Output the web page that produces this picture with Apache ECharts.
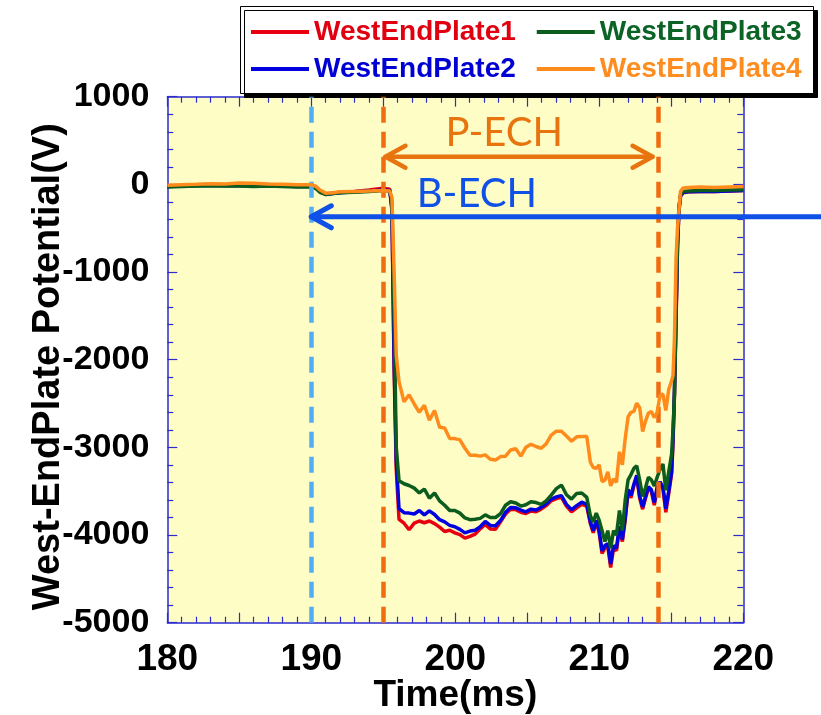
<!DOCTYPE html>
<html>
<head>
<meta charset="utf-8">
<script src="https://cdn.jsdelivr.net/npm/echarts@6/dist/echarts.min.js"></script>
<style>
  html, body { margin: 0; padding: 0; background: #ffffff; }
  #chart { width: 821px; height: 715px; }
</style>
</head>
<body>
<div id="chart"></div>
<script>
// Sample times (ms) shared by the four end-plate probes
const timeMs = [
  180, 181, 182, 183, 184, 185, 186, 187, 188, 189, 190, 190.3, 190.6, 191, 191.5, 192, 193, 194, 195, 195.45, 195.6, 195.75, 195.9,
  196.09, 196.44, 196.79, 197.15, 197.50, 197.85, 198.20, 198.56, 198.91, 199.26, 199.61, 199.97, 200.32, 200.67, 201.02, 201.38,
  201.73, 202.08, 202.43, 202.79, 203.14, 203.49, 203.84, 204.20, 204.55, 204.90, 205.25, 205.61, 205.96, 206.31, 206.66, 207.02,
  207.37, 207.72, 208.07, 208.43, 208.78, 209.13,
  209.38, 209.58, 209.79, 209.99, 210.19, 210.39, 210.59, 210.79, 210.99, 211.19, 211.40, 211.60, 211.80, 212.00, 212.20, 212.40,
  212.60, 212.81, 213.01, 213.21, 213.41, 213.61, 213.82, 214.02, 214.22, 214.42, 214.62, 214.82, 215.02,
  215.12, 215.22, 215.33, 215.43, 215.53, 215.64, 215.83, 216.2, 217, 218, 219, 220
];

// Potential (V) of each west end plate
const plate1 = [
  -20, -15, -10, -5, -10, -5, -10, -15, -15, -20, -20, -35, -80, -110, -100, -90, -80, -65, -45, -55, -300, -2100, -3250,
  -3820, -3865, -3940, -3865, -3840, -3860, -3840, -3870, -3910, -3960, -3945, -3975, -3995, -4035, -4015, -3990,
  -3930, -3880, -3930, -3935, -3850, -3760, -3705, -3710, -3740, -3755, -3725, -3735, -3705, -3665, -3610, -3585,
  -3570, -3670, -3735, -3690, -3650, -3670,
  -3870, -3975, -3850, -3975, -4210, -4150, -4130, -4370, -4150, -4180, -3925, -4075, -3830, -3500, -3575, -3440,
  -3340, -3585, -3705, -3580, -3470, -3500, -3660, -3470, -3420, -3475, -3740, -3530, -3300,
  -2950, -2400, -1550, -720, -310, -135, -95, -85, -80, -80, -75, -70
];
const plate2 = [
  -25, -20, -15, -10, -15, -15, -20, -15, -20, -25, -25, -40, -85, -115, -105, -95, -85, -75, -65, -70, -280, -2000, -3150,
  -3700, -3745, -3750, -3760, -3720, -3770, -3725, -3765, -3825, -3850, -3890, -3905, -3935, -3975, -3955, -3945,
  -3905, -3845, -3890, -3895, -3835, -3740, -3685, -3690, -3715, -3735, -3705, -3715, -3685, -3645, -3590, -3565,
  -3550, -3650, -3710, -3665, -3625, -3650,
  -3850, -3950, -3830, -3950, -4180, -4120, -4100, -4330, -4120, -4150, -3900, -4050, -3800, -3480, -3550, -3420,
  -3320, -3560, -3680, -3560, -3450, -3480, -3630, -3450, -3395, -3450, -3700, -3500, -3280,
  -2900, -2350, -1500, -700, -300, -130, -90, -85, -80, -80, -75, -70
];
const plate3 = [
  -30, -25, -20, -15, -20, -20, -25, -20, -25, -30, -30, -45, -90, -115, -105, -95, -90, -80, -70, -75, -200, -1500, -3000,
  -3380, -3415, -3435, -3465, -3520, -3475, -3580, -3520, -3610, -3660, -3720, -3720, -3750, -3805, -3825, -3820,
  -3810, -3770, -3800, -3800, -3755, -3660, -3620, -3635, -3670, -3655, -3620, -3630, -3650, -3610, -3545, -3470,
  -3430, -3540, -3590, -3525, -3520, -3570,
  -3780, -3850, -3750, -3830, -3950, -4075, -3950, -4150, -3950, -4000, -3720, -3950, -3600, -3370, -3310, -3240,
  -3210, -3380, -3560, -3460, -3340, -3370, -3440, -3340, -3250, -3190, -3490, -3280, -3080,
  -2800, -2400, -1450, -650, -250, -120, -80, -75, -70, -70, -65, -60
];
const plate4 = [
  -10, -5, 0, 8, 5, 15, 12, 5, 0, -5, -5, -20, -65, -100, -95, -85, -80, -75, -70, -75, -150, -1000, -1950,
  -2250, -2480, -2400, -2505, -2600, -2520, -2690, -2580, -2770, -2780, -2900, -2900, -2915, -3010, -3090, -3090,
  -3100, -3085, -3135, -3145, -3105, -3100, -3030, -3015, -3100, -3000, -2965, -2990, -3010, -2960, -2860, -2815,
  -2815, -2870, -2930, -2880, -2875, -2875,
  -3170, -3230, -3240, -3200, -3390, -3375, -3280, -3440, -3360, -3400, -3050, -3200, -2900, -2650, -2600, -2590,
  -2495, -2550, -2820, -2700, -2610, -2590, -2660, -2600, -2400, -2395, -2580, -2340, -2240,
  -2180, -1750, -850, -500, -300, -80, -40, -35, -30, -35, -30, -25
];

const seriesNames = ['WestEndPlate1', 'WestEndPlate2', 'WestEndPlate3', 'WestEndPlate4'];
const seriesValues = [plate1, plate2, plate3, plate4];
const lineColors = ['#e8000e', '#0000e0', '#0b5c1d', '#ff8b1c'];
const legendRows = [['WestEndPlate1', 'WestEndPlate3'], ['WestEndPlate2', 'WestEndPlate4']];
const legendTextColors = {
  WestEndPlate1: '#e0000f', WestEndPlate2: '#0000d4', WestEndPlate3: '#0b6326', WestEndPlate4: '#ff8c1f'
};

// Axis ranges
const timeRange = [180, 220];
const timeStep = 5;
const timeLabelStep = 10;
const voltRange = [-5000, 1000];
const voltStep = 1000;

// Discharge phases: B-ECH starts at 190 ms, P-ECH spans 195 - 214.1 ms
const bechStart = 190;
const pechBounds = [195, 214.1];
const pechArrow = { from: 195.15, to: 213.7, level: 315 };
const bechArrow = { from: 190, to: 226, level: -370 };
const pechLabel = { text: 'P-ECH', t: 203.4, v: 585 };
const bechLabel = { text: 'B-ECH', t: 201.5, v: -114 };

const FONT = "'Liberation Sans', Arial, sans-serif";
const NOTE_FONT = "Lato, 'Open Sans', sans-serif";
const axisBlue = '#2b2bd2';
const orangeMark = '#ef6c10';
const blueMark = '#52adf2';
const pechColor = '#e8740f';
const bechColor = '#0f50e6';

const chart = echarts.init(document.getElementById('chart'), null, { renderer: 'canvas' });

function frameAxis(base) {
  return Object.assign({
    type: 'value',
    nameMoveOverlap: false,
    axisLine: { show: true, onZero: false, lineStyle: { color: axisBlue, width: 1.5 } },
    axisTick: { show: true, inside: true, length: 10, lineStyle: { color: axisBlue, width: 1.2 } },
    minorTick: { show: true, splitNumber: 5, length: 6, lineStyle: { color: axisBlue, width: 1.2 } },
    splitLine: { show: false },
    minorSplitLine: { show: false }
  }, base);
}

const series = seriesNames.map((name, i) => ({
  name: name,
  type: 'line',
  data: timeMs.map((t, j) => [t, seriesValues[i][j]]),
  symbol: 'none',
  showSymbol: false,
  color: lineColors[i],
  itemStyle: { color: lineColors[i] },
  lineStyle: { color: lineColors[i], width: 3.5 },
  z: 2 + i,
  animation: false
}));

const dashStyle = (color) => ({ color: color, width: 4.5, type: [16, 9], opacity: 1 });
series[3].markLine = {
  silent: true,
  symbol: ['none', 'none'],
  label: { show: false },
  animation: false,
  lineStyle: dashStyle(orangeMark),
  emphasis: { disabled: true },
  data: [
    { xAxis: bechStart, lineStyle: dashStyle(blueMark) },
    { xAxis: pechBounds[0], lineStyle: dashStyle(orangeMark) },
    { xAxis: pechBounds[1], lineStyle: dashStyle(orangeMark) }
  ]
};

// One legend per row, laid inside a shared framed box
const legends = legendRows.map((row, r) => ({
  left: 251, top: 17 + r * 37,
  orient: 'horizontal',
  padding: 0,
  itemGap: 21,
  itemWidth: 58,
  itemHeight: 4,
  icon: 'rect',
  selectedMode: false,
  z: 6,
  textStyle: { fontFamily: FONT, fontWeight: 'bold', fontSize: 28, lineHeight: 30 },
  data: row.map(n => ({ name: n, textStyle: { color: legendTextColors[n] } }))
}));

chart.setOption({
  animation: false,
  backgroundColor: '#ffffff',
  grid: {
    left: 167.3, right: 77.7, top: 96.7, bottom: 92.3,
    outerBoundsMode: 'none',
    show: true, backgroundColor: '#fdfdc5', borderWidth: 0
  },
  legend: legends,
  xAxis: [
    frameAxis({
      position: 'bottom',
      min: timeRange[0], max: timeRange[1], interval: timeStep,
      axisLabel: {
        show: true, margin: 19, color: '#000', fontFamily: FONT, fontWeight: 'bold', fontSize: 37,
        formatter: v => (v % timeLabelStep === 0 ? String(v) : '')
      },
      name: 'Time(ms)',
      nameLocation: 'middle',
      nameGap: 55,
      nameTextStyle: { color: '#000', fontFamily: FONT, fontWeight: 'bold', fontSize: 37 }
    }),
    frameAxis({
      position: 'top',
      min: timeRange[0], max: timeRange[1], interval: timeStep,
      axisLabel: { show: false }
    })
  ],
  yAxis: [
    frameAxis({
      position: 'left',
      min: voltRange[0], max: voltRange[1], interval: voltStep,
      axisLabel: {
        show: true, margin: 18, color: '#000', fontFamily: FONT, fontWeight: 'bold', fontSize: 34,
        formatter: v => String(v)
      },
      name: 'West-EndPlate Potential(V)',
      nameLocation: 'middle',
      nameGap: 100,
      nameTextStyle: {
        color: '#000', fontFamily: FONT, fontWeight: 'bold', fontSize: 38, padding: [0, 14, 0, 0]
      }
    }),
    frameAxis({
      position: 'right',
      min: voltRange[0], max: voltRange[1], interval: voltStep,
      axisLabel: { show: false }
    })
  ],
  series: series
});

// Phase annotations, placed through the grid's own coordinate conversion
function toPx(t, v) {
  return chart.convertToPixel({ gridIndex: 0 }, [t, v]);
}

function arrowShapes(from, to, color, width, heads) {
  const a = toPx(from.t, from.v);
  const b = toPx(to.t, to.v);
  const els = [{
    type: 'line', z: 20,
    shape: { x1: a[0], y1: a[1], x2: b[0], y2: b[1] },
    style: { stroke: color, lineWidth: width, lineCap: 'round' }
  }];
  heads.forEach(h => {
    const p = h === 'start' ? a : b;
    const dir = h === 'start' ? 1 : -1;
    els.push({
      type: 'polyline', z: 20,
      shape: { points: [[p[0] + dir * 20, p[1] - 11], [p[0], p[1]], [p[0] + dir * 20, p[1] + 11]] },
      style: { stroke: color, lineWidth: width, lineCap: 'round', lineJoin: 'round', fill: null }
    });
  });
  return els;
}

function noteText(lbl, color) {
  const p = toPx(lbl.t, lbl.v);
  return {
    type: 'text', z: 20,
    x: p[0], y: p[1],
    style: {
      text: lbl.text, fill: color, fontFamily: NOTE_FONT, fontSize: 40,
      align: 'center', verticalAlign: 'middle'
    }
  };
}

// Framed legend box with a hard drop shadow
const legendBox = {
  type: 'rect', z: 1,
  shape: { x: 240.5, y: 6.5, width: 573, height: 87 },
  style: {
    fill: '#ffffff', stroke: '#000000', lineWidth: 1,
    shadowColor: '#000000', shadowBlur: 0, shadowOffsetX: 4, shadowOffsetY: 4
  }
};

chart.setOption({
  graphic: [legendBox].concat(
    arrowShapes({ t: pechArrow.from, v: pechArrow.level }, { t: pechArrow.to, v: pechArrow.level }, pechColor, 4.5, ['start', 'end']),
    arrowShapes({ t: bechArrow.from, v: bechArrow.level }, { t: bechArrow.to, v: bechArrow.level }, bechColor, 5, ['start']),
    [noteText(pechLabel, pechColor), noteText(bechLabel, bechColor)]
  )
});
</script>
</body>
</html>
